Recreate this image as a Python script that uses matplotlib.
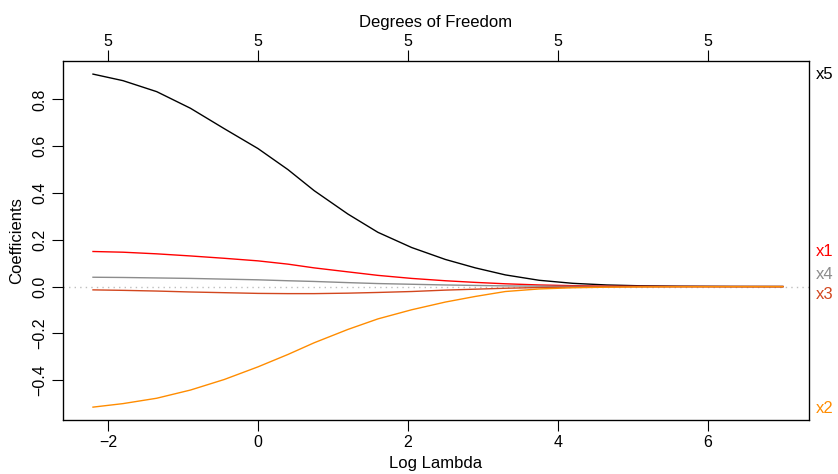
import matplotlib
matplotlib.use("Agg")
import matplotlib.pyplot as plt
import matplotlib.transforms as mtransforms

plt.rcParams['font.family'] = ['Liberation Sans', 'DejaVu Sans']

log_lambda = [-2.2, -1.8, -1.35, -0.9, -0.45, 0.0, 0.4, 0.75, 1.2, 1.6, 2.05, 2.5, 2.9, 3.3, 3.75, 4.2, 4.65, 5.1, 5.6, 6.3, 7.0]
coef_x5 = [0.908, 0.880, 0.833, 0.762, 0.675, 0.590, 0.500, 0.410, 0.310, 0.232, 0.167, 0.116, 0.080, 0.050, 0.027, 0.014, 0.007, 0.0035, 0.0018, 0.0008, 0.0004]
coef_x1 = [0.150, 0.147, 0.140, 0.131, 0.121, 0.110, 0.096, 0.080, 0.063, 0.048, 0.035, 0.025, 0.018, 0.012, 0.007, 0.004, 0.002, 0.001, 0.0005, 0.0002, 0.0001]
coef_x4 = [0.040, 0.039, 0.037, 0.035, 0.032, 0.029, 0.025, 0.022, 0.017, 0.013, 0.010, 0.007, 0.005, 0.003, 0.002, 0.001, 0.0005, 0.0003, 0.0001, 0.0, 0.0]
coef_x3 = [-0.014, -0.016, -0.019, -0.023, -0.026, -0.029, -0.030, -0.030, -0.028, -0.025, -0.021, -0.015, -0.011, -0.007, -0.004, -0.002, -0.001, -0.0005, -0.0002, -0.0001, 0.0]
coef_x2 = [-0.515, -0.500, -0.477, -0.442, -0.397, -0.343, -0.290, -0.240, -0.183, -0.138, -0.099, -0.066, -0.042, -0.021, -0.010, -0.005, -0.0025, -0.0012, -0.0006, -0.0002, -0.0001]

series_names = ["x5", "x1", "x4", "x3", "x2"]
series_vals = [coef_x5, coef_x1, coef_x4, coef_x3, coef_x2]
series_colors = ["black", "#FF0000", "#8C8C8C", "#D2461E", "#FF8C00"]
label_y = [0.905, 0.150, 0.052, -0.033, -0.520]

x_ticks = [-2, 0, 2, 4, 6]
y_ticks = [-0.4, -0.2, 0.0, 0.2, 0.4, 0.6, 0.8]
df_ticks = [-2, 0, 2, 4, 6]
df_labels = ["5", "5", "5", "5", "5"]

fig = plt.figure(figsize=(8.38, 4.74), dpi=100)
ax = fig.add_axes([63/838, 1 - 420/474, (809-63)/838, (420-61)/474])

ax.axhline(0, color="#BEBEBE", linestyle=(0, (1, 3)), linewidth=1.0, zorder=1)
for vals, col in zip(series_vals, series_colors):
    ax.plot(log_lambda, vals, color=col, linewidth=1.0, zorder=2)

ax.set_xlim(-2.6, 7.35)
ax.set_ylim(-0.57, 0.964)

ax.set_xticks(x_ticks)
ax.set_xticklabels([f"{t:g}".replace("-", "\u2212") for t in x_ticks])
ax.set_yticks(y_ticks)
ax.set_yticklabels([f"{t:.1f}".replace("-", "\u2212") for t in y_ticks], rotation=90, va="center")
ax.tick_params(axis="both", length=8, width=0.8, labelsize=11.5, direction="out", pad=3)

for sp in ax.spines.values():
    sp.set_linewidth(0.9)

ax.set_xlabel("Log Lambda", fontsize=12, labelpad=4)
ax.set_ylabel("Coefficients", fontsize=12, labelpad=6)

top = ax.twiny()
top.set_xlim(ax.get_xlim())
top.set_xticks(df_ticks)
top.set_xticklabels(df_labels)
top.tick_params(axis="x", length=8, width=0.8, labelsize=11.5, pad=1)
top.set_xlabel("Degrees of Freedom", fontsize=12, labelpad=5)

trans = mtransforms.blended_transform_factory(ax.transAxes, ax.transData)
for name, col, yv in zip(series_names, series_colors, label_y):
    ax.text(1.0 + 7/746, yv, name, color=col, fontsize=12, va="center", ha="left",
            transform=trans, clip_on=False)

fig.savefig("out.png", dpi=100)
